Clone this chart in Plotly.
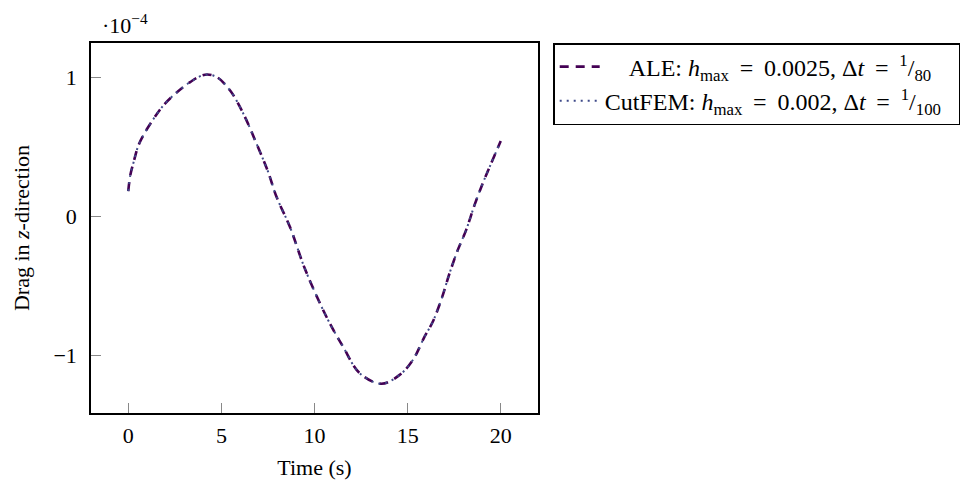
import plotly.graph_objects as go

# Time (s)
time_s = [0, 0.11, 0.29, 0.55, 0.91, 1.36, 1.89, 2.52, 3.32, 4.12, 4.75, 5.46, 6.18, 6.89,
          7.51, 7.96, 8.69, 9.49, 10.64, 11.53, 12.43, 13.6, 14.57, 15.28, 15.91, 16.35,
          16.8, 17.25, 17.69, 18.14, 18.59, 19.03, 19.48, 20.0]
# Drag in z-direction, in units of 1e-4
ale_drag = [0.18, 0.294, 0.39, 0.51, 0.605, 0.70, 0.797, 0.88, 0.964, 1.017, 1.0, 0.905,
            0.737, 0.52, 0.318, 0.139, -0.08, -0.38, -0.723, -0.938, -1.129, -1.205,
            -1.141, -1.034, -0.866, -0.759, -0.603, -0.411, -0.244, -0.10, 0.079, 0.235,
            0.378, 0.54]
cutfem_drag = [0.18, 0.294, 0.39, 0.51, 0.605, 0.70, 0.797, 0.88, 0.964, 1.017, 1.0, 0.905,
               0.737, 0.52, 0.318, 0.139, -0.08, -0.38, -0.723, -0.938, -1.129, -1.205,
               -1.141, -1.034, -0.866, -0.759, -0.603, -0.411, -0.244, -0.10, 0.079, 0.235,
               0.378, 0.54]

x_ticks = [0, 5, 10, 15, 20]
y_ticks = [-1, 0, 1]

FONT = "Liberation Serif"
FS = 22
LFS = 24
NB = "\u00a0"
TS = "\u2009"
EQ = NB + TS + "=" + TS + NB

fig = go.Figure()
fig.add_trace(go.Scatter(
    x=time_s, y=ale_drag, mode="lines",
    line=dict(color="#440154", width=2.6, dash="9px,7px", shape="spline", smoothing=1.0),
    name=NB * 4 + "ALE: <i>h</i><sub>max</sub>" + EQ + "0.0025," + NB
         + "Δ<i>t</i>" + EQ + "<sup>1</sup>/<sub>80</sub>",
    legendgroup="a",
))
fig.add_trace(go.Scatter(
    x=time_s, y=cutfem_drag, mode="lines",
    line=dict(color="#3e4a89", width=2, dash="2px,5px", shape="spline", smoothing=1.0),
    name="CutFEM: <i>h</i><sub>max</sub>" + EQ + "0.002," + NB
         + "Δ<i>t</i>" + EQ + "<sup>1</sup>/<sub>100</sub>" + NB * 2,
    legendgroup="b",
))

axis_common = dict(
    showline=True, linecolor="black", linewidth=1.6, mirror=True,
    ticks="inside", ticklen=10, tickcolor="#888888", tickwidth=1,
    showgrid=False, zeroline=False,
    tickfont=dict(family=FONT, size=FS, color="black"),
)

fig.update_layout(
    width=977, height=483,
    margin=dict(l=83, r=447, t=35, b=78, autoexpand=False),
    paper_bgcolor="white", plot_bgcolor="white",
    font=dict(family=FONT, size=FS, color="black"),
    xaxis=dict(range=[-2, 22], tickvals=x_ticks, ticklabelstandoff=2,
               title=dict(text="Time (s)", font=dict(family=FONT, size=FS), standoff=12),
               **axis_common),
    yaxis=dict(range=[-1.415, 1.245], tickvals=y_ticks, ticklabelstandoff=8,
               title=dict(text="Drag in <i>z</i>-direction", font=dict(family=FONT, size=FS), standoff=18),
               **axis_common),
    legend=dict(x=1.034, y=1.0, xanchor="left", yanchor="top",
                bordercolor="black", borderwidth=1.5, bgcolor="white",
                font=dict(family=FONT, size=LFS), tracegroupgap=0,
                itemwidth=40),
    showlegend=True,
    annotations=[dict(
        text="·10<sup>−4</sup>", xref="paper", yref="paper", x=0.02, y=1.0,
        xanchor="left", yanchor="bottom", yshift=3, showarrow=False,
        font=dict(family=FONT, size=FS, color="black"),
    )],
)

fig.write_html("out.html")
